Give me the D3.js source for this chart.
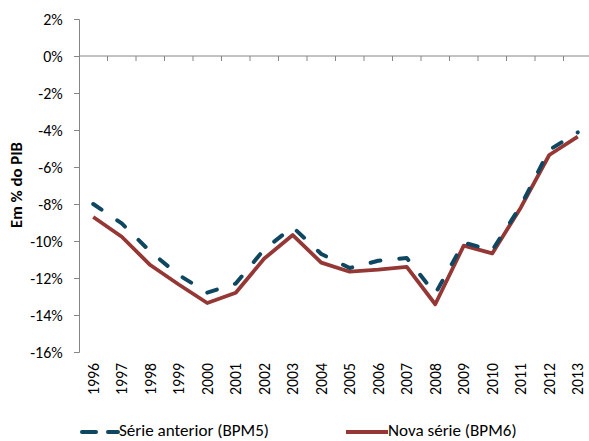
<!DOCTYPE html>
<html><head><meta charset="utf-8">
<script src="https://cdn.jsdelivr.net/npm/d3@7"></script>
<style>
html,body{margin:0;padding:0;background:#fff;}
svg{display:block;}
text{font-family:Carlito,Lato,"Open Sans",sans-serif;fill:#000;}
</style></head>
<body>
<script>
const years = ["1996","1997","1998","1999","2000","2001","2002","2003","2004","2005","2006","2007","2008","2009","2010","2011","2012","2013"];
const serieAnterior = [-8.0,-9.05,-10.57,-11.84,-12.79,-12.3,-10.45,-9.25,-10.7,-11.46,-11.07,-10.92,-12.85,-10.09,-10.5,-8.1,-5.08,-4.13];
const novaSerie = [-8.7,-9.77,-11.3,-12.35,-13.35,-12.8,-10.95,-9.68,-11.17,-11.66,-11.55,-11.4,-13.42,-10.25,-10.67,-8.2,-5.35,-4.36];
const yTicks = [2,0,-2,-4,-6,-8,-10,-12,-14,-16];
const seriesNames = ["Série anterior (BPM5)","Nova série (BPM6)"];
const yTitle = "Em % do PIB";

const W=589,H=441;
const svg=d3.select("body").append("svg").attr("width",W).attr("height",H);
const x=d3.scaleBand().domain(years).range([79,592]).padding(0);
const y=d3.scaleLinear().domain([-16,2]).range([352,19]);
const axisColor="#868686";

// measure helper: font size that gives a target width
function fitSize(str, target, weight){
  const t=svg.append("text").attr("font-size","20px").attr("font-weight",weight||"normal").text(str);
  const w=t.node().getComputedTextLength();
  t.remove();
  return 20*target/w;
}
const tickSize=fitSize("-16%",32.5);
const yearSize=fitSize("1996",32);
const titleSize=fitSize(yTitle,86,"bold");
const legSize=(fitSize(seriesNames[0],152)+fitSize(seriesNames[1],127))/2;

// y axis
const ya=svg.append("g").attr("transform","translate(79,0)")
  .call(d3.axisLeft(y).tickValues(yTicks).tickSize(5).tickFormat(d=>d+"%"));
ya.select(".domain").attr("stroke",axisColor);
ya.selectAll(".tick line").attr("stroke",axisColor);
ya.selectAll(".tick text").attr("font-size",tickSize+"px").attr("x",-16.3)
  .attr("font-family","Carlito,Lato,sans-serif").attr("fill","#000");

// x axis at zero
const xa=svg.append("g").attr("transform",`translate(0,${y(0)})`);
xa.append("line").attr("x1",x.range()[0]).attr("x2",x.range()[1]).attr("stroke",axisColor);
xa.selectAll("line.t").data(years.slice(1)).join("line").attr("class","t")
  .attr("x1",d=>x(d)).attr("x2",d=>x(d)).attr("y1",0).attr("y2",5).attr("stroke",axisColor);

// x labels
svg.append("g").selectAll("text").data(years).join("text")
  .attr("transform",d=>`translate(${x(d)+x.bandwidth()/2},363) rotate(-90)`)
  .attr("text-anchor","end").attr("dominant-baseline","central")
  .attr("font-size",yearSize+"px").text(d=>d);

// y title
svg.append("text").attr("transform","translate(16,185) rotate(-90)")
  .attr("text-anchor","middle").attr("dominant-baseline","central")
  .attr("font-size",titleSize+"px").attr("font-weight","bold").text(yTitle);

const line=d3.line().x((d,i)=>x(years[i])+x.bandwidth()/2).y(d=>y(d));
svg.append("path").datum(novaSerie).attr("d",line).attr("fill","none")
  .attr("stroke","#953735").attr("stroke-width",3.8).attr("stroke-linejoin","round");
svg.append("path").datum(serieAnterior).attr("d",line).attr("fill","none")
  .attr("stroke","#0f4761").attr("stroke-width",4).attr("stroke-dasharray","10,19")
  .attr("stroke-linecap","round").attr("stroke-linejoin","round");

// legend
const lg=svg.append("g");
lg.append("line").attr("x1",82).attr("x2",118).attr("y1",432).attr("y2",432)
  .attr("stroke","#0f4761").attr("stroke-width",4).attr("stroke-dasharray","14,12").attr("stroke-linecap","round");
lg.append("text").attr("x",119).attr("y",436).attr("font-size",legSize+"px").text(seriesNames[0]);
lg.append("line").attr("x1",346).attr("x2",388).attr("y1",432).attr("y2",432)
  .attr("stroke","#953735").attr("stroke-width",3.8);
lg.append("text").attr("x",388).attr("y",436).attr("font-size",legSize+"px").text(seriesNames[1]);
</script>
</body></html>
